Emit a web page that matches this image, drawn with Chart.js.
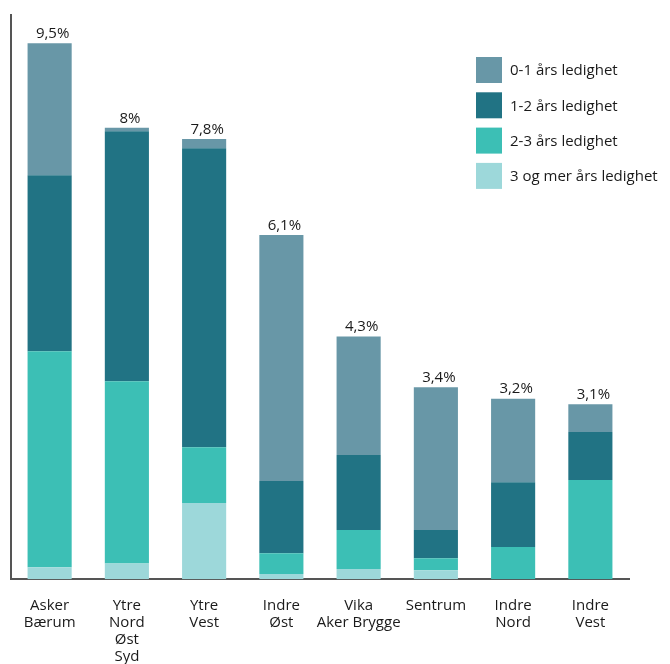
<!DOCTYPE html>
<html>
<head>
<meta charset="utf-8">
<script src="https://cdn.jsdelivr.net/npm/chart.js@4"></script>
<style>
  html, body { margin: 0; padding: 0; background: #fff; }
  #wrap { width: 670px; height: 664px; }
</style>
</head>
<body>
<div id="wrap"><canvas id="ledighetChart"></canvas></div>
<script>
const areas = [
    ['Asker', 'Bærum'],
    ['Ytre', 'Nord', 'Øst', 'Syd'],
    ['Ytre', 'Vest'],
    ['Indre', 'Øst'],
    ['Vika', 'Aker Brygge'],
    'Sentrum',
    ['Indre', 'Nord'],
    ['Indre', 'Vest'],
];

// share of unemployed by duration, percent
const years0to1 = [2.34, 0.06, 0.16, 4.36, 2.10, 2.53, 1.48, 0.49];
const years1to2 = [3.12, 4.43, 5.30, 1.28, 1.33, 0.50, 1.15, 0.85];
const years2to3 = [3.83, 3.23, 0.99, 0.37, 0.69, 0.21, 0.57, 1.76];
const years3plus = [0.21, 0.28, 1.35, 0.09, 0.18, 0.16, 0, 0];

const totals = [9.5, 8, 7.8, 6.1, 4.3, 3.4, 3.2, 3.1];

const FONT = '"Open Sans", "Liberation Sans", sans-serif';

// bottom of the stack first
const datasets = [
    { label: '3 og mer års ledighet', data: years3plus, backgroundColor: '#9dd8da' },
    { label: '2-3 års ledighet', data: years2to3, backgroundColor: '#3cbfb5' },
    { label: '1-2 års ledighet', data: years1to2, backgroundColor: '#217384' },
    { label: '0-1 års ledighet', data: years0to1, backgroundColor: '#6897a7' },
];

const totalLabels = {
    id: 'totalLabels',
    afterDatasetsDraw(chart) {
        const ctx = chart.ctx;
        const top = chart.getDatasetMeta(chart.data.datasets.length - 1);
        ctx.save();
        ctx.font = '15px ' + FONT;
        ctx.fillStyle = '#1a1a1a';
        ctx.textAlign = 'center';
        ctx.textBaseline = 'bottom';
        totals.forEach((t, i) => {
            const bar = top.data[i];
            const y = chart.scales.y.getPixelForValue(t);
            ctx.fillText(String(t).replace('.', ',') + '%', bar.x + 3, y - 2);
        });
        ctx.restore();
    }
};

const boxLegend = {
    id: 'boxLegend',
    afterDraw(chart) {
        const ctx = chart.ctx;
        const list = chart.data.datasets.slice().reverse();
        ctx.save();
        ctx.font = '15px ' + FONT;
        ctx.textBaseline = 'middle';
        ctx.textAlign = 'left';
        list.forEach((ds, i) => {
            const y = 57 + i * 35.3;
            ctx.fillStyle = ds.backgroundColor;
            ctx.fillRect(476, y, 26, 26);
            ctx.fillStyle = '#1a1a1a';
            ctx.fillText(ds.label, 510, y + 14);
        });
        ctx.restore();
    }
};

const ctx = document.getElementById('ledighetChart').getContext('2d');
const chartInstance = new Chart(ctx, {
    type: 'bar',
    data: {
        labels: areas,
        datasets: datasets,
    },
    options: {
        responsive: true,
        maintainAspectRatio: false,
        animation: false,
        layout: { padding: { left: 3, right: 41, top: 15, bottom: -11 } },
        datasets: {
            bar: { categoryPercentage: 1, barPercentage: 0.571 }
        },
        plugins: {
            legend: { display: false },
            tooltip: { enabled: false },
        },
        scales: {
            x: {
                stacked: true,
                grid: { display: false },
                border: { display: true, color: '#555', width: 2 },
                ticks: {
                    color: '#1a1a1a',
                    font: { family: FONT, size: 15, lineHeight: 1.13 },
                    padding: 10,
                    maxRotation: 0,
                    autoSkip: false,
                },
            },
            y: {
                stacked: true,
                min: 0,
                max: 10,
                grid: { display: false },
                border: { display: true, color: '#555', width: 2 },
                ticks: { display: false },
            },
        },
    },
    plugins: [totalLabels, boxLegend],
});
</script>
</body>
</html>
